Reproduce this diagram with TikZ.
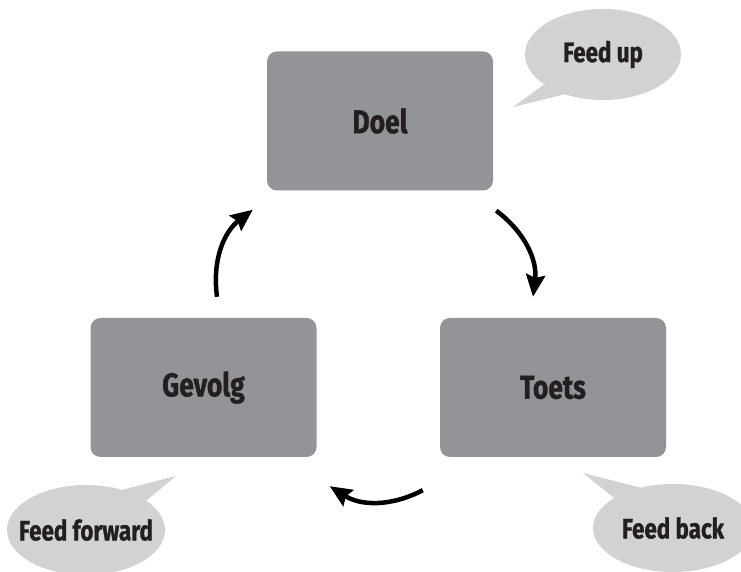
\documentclass[tikz,border=0pt]{standalone}
\usepackage{fontspec}
\setmainfont{Fira Sans}[FakeStretch=0.8, BoldFeatures={FakeBold=1}]
\usepackage{xcolor}
\usepackage{tikz}
\usetikzlibrary{shapes.geometric, arrows.meta, positioning}

\definecolor{boxgray}{HTML}{939498}
\definecolor{bubblegray}{HTML}{D1D2D4}
\definecolor{ink}{HTML}{231F20}

\begin{document}
\begin{tikzpicture}[
    x=1pt, y=1pt,
    stage/.style={rectangle, rounded corners=10pt, fill=boxgray, minimum width=226pt, minimum height=139pt, text=ink, font=\fontsize{33}{36}\selectfont\bfseries},
    bubble/.style={ellipse, fill=bubblegray, inner sep=0pt},
    bubbletext/.style={text=ink, font=\fontsize{28}{30}\selectfont\bfseries},
    arrow/.style={-{Stealth[length=22pt, width=19pt, inset=3pt]}, line width=4.5pt, bend left=30}
]
    \clip (0,0) rectangle (741,572);
    \useasboundingbox (0,0) rectangle (741,572);

    \node[stage] (doel) at (380,451) {Doel};
    \node[stage] (gevolg) at (203.5,184.5) {Gevolg};
    \node[stage] (toets) at (553,184.5) {Toets};

    \node[bubble, minimum width=156pt, minimum height=91pt, label={[bubbletext]center:Feed up}] (fbUp) at (603,517.5) {};
    \node[bubble, minimum width=158pt, minimum height=90pt, label={[bubbletext]center:Feed forward}] (fbFwd) at (86,42) {};
    \node[bubble, minimum width=160pt, minimum height=88pt, label={[bubbletext]center:Feed back}] (fbBack) at (673,44) {};

    % tails of the speech bubbles
    \coordinate (upTip) at (513,465);
    \coordinate (fwdTip) at (176,96);
    \coordinate (backTip) at (583,99);
    \fill[bubblegray] (upTip) -- (fbUp.207) -- (fbUp.226) -- cycle;
    \fill[bubblegray] (fwdTip) -- (fbFwd.48) -- (fbFwd.26) -- cycle;
    \fill[bubblegray] (backTip) -- (fbBack.129) -- (fbBack.153) -- cycle;

    \draw[arrow] ([shift={(3,-20)}]doel.south east) to ([shift={(-20,21)}]toets.north);
    \draw[arrow] ([shift={(-17,-33)}]toets.south west) to ([shift={(13,-29)}]gevolg.south east);
    \draw[arrow] ([shift={(13.5,21)}]gevolg.north) to ([shift={(-14,-19)}]doel.south west);
\end{tikzpicture}
\end{document}
